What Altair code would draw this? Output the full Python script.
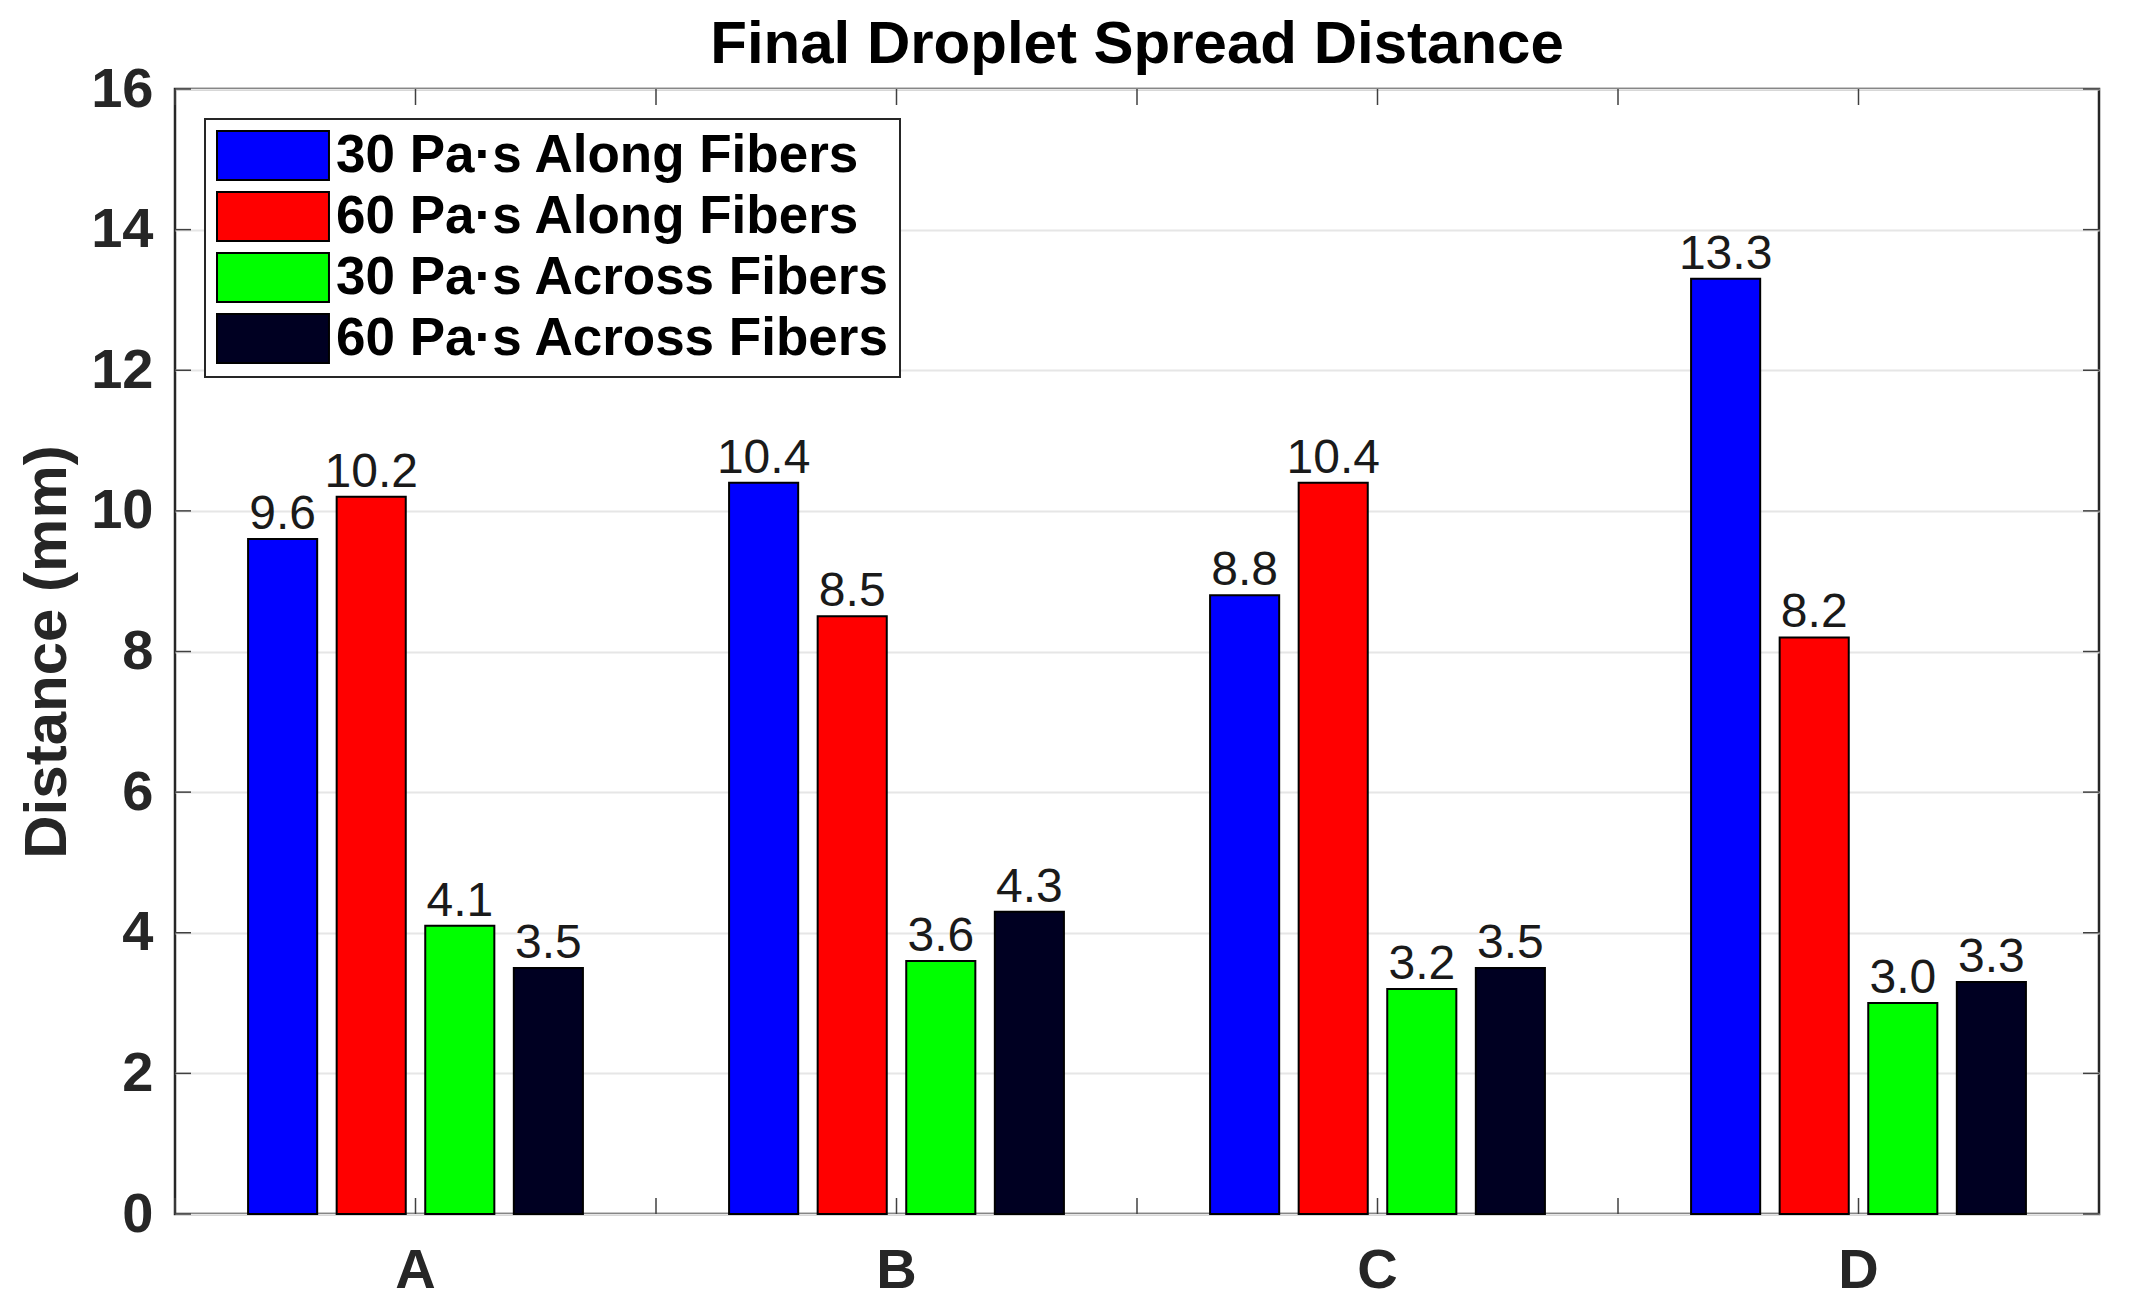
import altair as alt
import pandas as pd

FONT = "Liberation Sans"

groups = ["A", "B", "C", "D"]
series = ["30 Pa·s Along Fibers", "60 Pa·s Along Fibers",
          "30 Pa·s Across Fibers", "60 Pa·s Across Fibers"]
colors = ["#0000FF", "#FF0000", "#00FF00", "#000022"]
along30 = [9.6, 10.4, 8.8, 13.3]
along60 = [10.2, 8.5, 10.4, 8.2]
across30 = [4.1, 3.6, 3.2, 3.0]
across60 = [3.5, 4.3, 3.5, 3.3]
y_ticks = [0, 2, 4, 6, 8, 10, 12, 14, 16]

rows = []
for s, vals in zip(series, [along30, along60, across30, across60]):
    for g, v in zip(groups, vals):
        rows.append({"group": g, "series": s, "value": v})
df = pd.DataFrame(rows)
gdf = pd.DataFrame({"group": groups})
ydf = pd.DataFrame({"value": y_ticks})

W, H = 1924, 1125
TICK = 16
AXC = "#262626"

xscale = alt.Scale(domain=groups, paddingInner=0, paddingOuter=0)
yscale = alt.Scale(domain=[0, 16], nice=False)
offscale = alt.Scale(domain=series, paddingInner=0.22, paddingOuter=0.825)

xaxis = alt.Axis(title=None, labelFont=FONT, labelFontSize=56, labelFontWeight="bold",
                 labelColor=AXC, labelPadding=29, labelAngle=0, ticks=False,
                 domain=False, grid=False)
yaxis = alt.Axis(title="Distance (mm)", values=y_ticks, labelFont=FONT, labelFontSize=56,
                 labelFontWeight="bold", labelColor=AXC, labelPadding=22, ticks=False,
                 domain=False, grid=True, gridColor="#e6e6e6", gridWidth=2,
                 titleFont=FONT, titleFontSize=60, titleFontWeight="bold", titleColor=AXC,
                 titleX=-110, titleY=H / 2, titleAngle=270, titleAlign="center",
                 titleBaseline="alphabetic")

legend = alt.Legend(title=None, orient="none", legendX=30, legendY=30,
                    symbolType="M-1,-1L3.57,-1L3.57,1L-1,1Z", symbolSize=2401,
                    symbolStrokeColor="black", symbolStrokeWidth=2, symbolOpacity=1,
                    labelFont=FONT, labelFontSize=53, labelFontWeight="bold",
                    labelColor="black", labelOffset=68, labelLimit=1000,
                    rowPadding=4, padding=10, fillColor="white", strokeColor=AXC)

bars = alt.Chart(df).mark_bar(stroke="black", strokeWidth=2).encode(
    x=alt.X("group:N", scale=xscale, axis=xaxis, sort=groups),
    xOffset=alt.XOffset("series:N", scale=offscale, sort=series),
    y=alt.Y("value:Q", scale=yscale, axis=yaxis),
    color=alt.Color("series:N", scale=alt.Scale(domain=series, range=colors), legend=legend),
)

labels = alt.Chart(df).mark_text(font=FONT, fontSize=48, color="#1a1a1a",
                                 baseline="alphabetic", align="center", dy=-10).encode(
    x=alt.X("group:N", scale=xscale, axis=xaxis, sort=groups),
    xOffset=alt.XOffset("series:N", scale=offscale, sort=series),
    y=alt.Y("value:Q", scale=yscale, axis=yaxis),
    text=alt.Text("value:Q", format=".1f"),
)

tick_layers = []
for bp in [0, 0.5]:
    for y0, y1 in [(H - TICK, H), (0, TICK)]:
        tick_layers.append(
            alt.Chart(gdf).mark_rule(color="#404040", strokeWidth=1.5).encode(
                x=alt.X("group:N", scale=xscale, axis=xaxis, sort=groups, bandPosition=bp),
                y=alt.value(y0), y2=alt.value(y1)))
for x0, x1 in [(0, TICK), (W - TICK, W)]:
    tick_layers.append(
        alt.Chart(ydf).mark_rule(color="#404040", strokeWidth=1.5).encode(
            y=alt.Y("value:Q", scale=yscale, axis=yaxis),
            x=alt.value(x0), x2=alt.value(x1)))

chart = alt.layer(bars, labels, *tick_layers).properties(
    width=W, height=H,
    title=alt.TitleParams("Final Droplet Spread Distance", font=FONT, fontSize=60,
                          fontWeight="bold", color="black", anchor="middle",
                          frame="group", offset=0, dy=15),
    autosize=alt.AutoSizeParams(type="none"),
    padding={"left": 167, "top": 81, "right": 31, "bottom": 89},
).configure_view(stroke=AXC, strokeWidth=2.5).configure_legend(strokeWidth=2)

chart.save("out.html", embed_options={"renderer": "svg", "actions": False})
